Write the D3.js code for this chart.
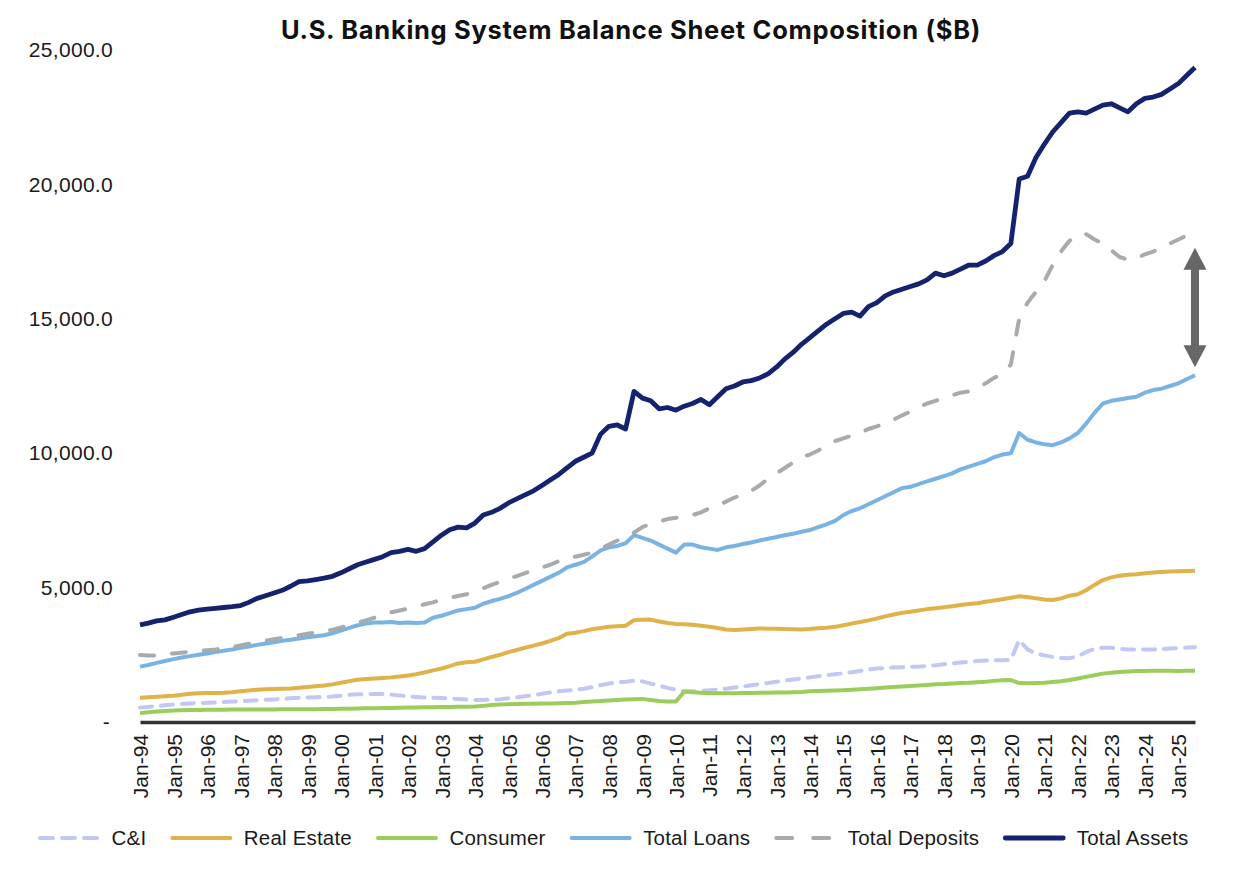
<!DOCTYPE html>
<html>
<head>
<meta charset="utf-8">
<script src="https://cdn.jsdelivr.net/npm/d3@7"></script>
<style>
  body { margin: 0; background: #fff; }
  svg { display: block; font-family: "Liberation Sans", Arial, sans-serif; }
</style>
</head>
<body>
<svg id="drawing_region"></svg>
<script>
// quarterly observations, Jan-1994 .. Jul-2025 ($B)
const quarters = d3.timeMonth.every(3).range(new Date(1994, 0, 1), new Date(2025, 7, 1));
const tickYears = d3.range(1994, 2026);

const totalAssets = [
  3610, 3680, 3760, 3800,   3900, 4000, 4100, 4160,   4200, 4230, 4260, 4290,
  4330, 4450, 4600, 4700,   4800, 4900, 5050, 5220,   5250, 5300, 5350, 5420,
  5550, 5700, 5850, 5950,   6050, 6150, 6300, 6350,   6420, 6350, 6450, 6700,
  6950, 7150, 7250, 7220,   7400, 7700, 7800, 7950,   8150, 8300, 8450, 8600,
  8800, 9000, 9200, 9450,   9700, 9850, 10000, 10700, 11000, 11050, 10900, 12300,
  12050, 11950, 11650, 11700, 11600, 11750, 11850, 12000, 11800, 12100, 12400, 12500,
  12650, 12700, 12800, 12950, 13200, 13500, 13750, 14050, 14300, 14550, 14800, 15000,
  15200, 15250, 15100, 15450, 15600, 15850, 16000, 16100, 16200, 16300, 16450, 16700,
  16600, 16700, 16850, 17000, 17000, 17150, 17350, 17500, 17800, 20200, 20300, 21000,
  21500, 21950, 22300, 22650, 22700, 22650, 22800, 22950, 23000, 22850, 22700, 23000,
  23200, 23250, 23350, 23550, 23750, 24050, 24350
];

const totalDeposits = [
  2490, 2470, 2480, 2520,   2550, 2580, 2610, 2640,   2670, 2700, 2740, 2790,
  2850, 2910, 2960, 3020,   3080, 3130, 3180, 3230,   3280, 3330, 3380, 3430,
  3520, 3600, 3700, 3780,   3880, 3980, 4080, 4150,   4220, 4280, 4380, 4450,
  4550, 4620, 4690, 4750,   4850, 4980, 5100, 5220,   5330, 5430, 5540, 5640,
  5750, 5850, 5980, 6080,   6150, 6220, 6300, 6450,   6600, 6750, 6850, 7050,
  7250, 7380, 7450, 7550,   7600, 7630, 7700, 7800,   7950, 8050, 8200, 8350,
  8450, 8600, 8800, 9050,   9250, 9450, 9650, 9850,   9950, 10100, 10300, 10450,
  10550, 10650, 10750, 10900, 11000, 11100, 11250, 11400, 11550, 11700, 11850, 11950,
  12050, 12150, 12250, 12300, 12450, 12600, 12800, 12950, 13300, 15000, 15600, 16000,
  16400, 17000, 17500, 17900, 18150, 18150, 17950, 17800, 17550, 17300, 17200, 17250,
  17400, 17500, 17650, 17800, 17950, 18100, 18200
];

const totalLoans = [
  2060, 2120, 2200, 2270,   2340, 2400, 2450, 2500,   2550, 2600, 2650, 2700,
  2760, 2810, 2870, 2920,   2970, 3020, 3060, 3110,   3150, 3190, 3230, 3300,
  3400, 3500, 3600, 3660,   3700, 3700, 3720, 3680,   3700, 3680, 3700, 3880,
  3950, 4050, 4150, 4200,   4250, 4400, 4500, 4580,   4680, 4800, 4950, 5100,
  5250, 5400, 5550, 5750,   5850, 5950, 6150, 6380,   6500, 6550, 6650, 6950,
  6850, 6750, 6600, 6450,   6300, 6600, 6600, 6500,   6450, 6400, 6500, 6550,
  6620, 6680, 6750, 6820,   6880, 6950, 7000, 7080,   7140, 7250, 7350, 7480,
  7700, 7850, 7950, 8100,   8250, 8400, 8550, 8700,   8750, 8850, 8950, 9050,
  9150, 9250, 9400, 9500,   9600, 9700, 9850, 9950,   10000, 10750, 10500, 10400,
  10330, 10300, 10400, 10550, 10750, 11100, 11500, 11850, 11950, 12000, 12050, 12100,
  12250, 12350, 12400, 12500, 12600, 12750, 12900
];

const realEstate = [
  905, 920, 940, 960,       980, 1010, 1050, 1070,    1075, 1080, 1090, 1110,
  1140, 1170, 1200, 1220,   1230, 1240, 1250, 1270,   1300, 1330, 1360, 1400,
  1460, 1520, 1570, 1600,   1620, 1640, 1660, 1690,   1730, 1780, 1840, 1920,
  1990, 2080, 2180, 2220,   2240, 2330, 2420, 2500,   2600, 2680, 2760, 2840,
  2920, 3020, 3120, 3280,   3320, 3380, 3450, 3500,   3540, 3560, 3580, 3790,
  3800, 3810, 3740, 3680,   3650, 3640, 3620, 3580,   3540, 3500, 3440, 3420,
  3440, 3460, 3480, 3470,   3470, 3460, 3450, 3440,   3460, 3490, 3510, 3540,
  3600, 3660, 3720, 3780,   3850, 3930, 4000, 4060,   4100, 4150, 4200, 4230,
  4270, 4310, 4350, 4390,   4420, 4470, 4520, 4570,   4620, 4680, 4650, 4600,
  4560, 4540, 4600, 4700,   4750, 4900, 5100, 5280,   5380, 5440, 5480, 5500,
  5530, 5560, 5580, 5600,   5610, 5620, 5630
];

const cAndI = [
  535, 560, 590, 620,       650, 670, 690, 705,       715, 730, 745, 760,
  775, 790, 810, 825,       840, 860, 880, 900,       910, 920, 935, 950,
  980, 1010, 1030, 1040,    1045, 1040, 1020, 990,    950, 930, 910, 900,
  890, 880, 860, 840,       820, 820, 830, 850,       880, 920, 960, 1000,
  1050, 1100, 1140, 1170,   1190, 1240, 1300, 1370,   1430, 1480, 1500, 1540,
  1510, 1430, 1350, 1270,   1200, 1140, 1140, 1160,   1180, 1210, 1240, 1280,
  1320, 1370, 1410, 1450,   1500, 1540, 1580, 1620,   1660, 1700, 1740, 1780,
  1810, 1850, 1900, 1950,   1990, 2010, 2030, 2040,   2050, 2060, 2080, 2110,
  2150, 2180, 2210, 2240,   2270, 2290, 2300, 2300,   2310, 3050, 2700, 2550,
  2480, 2420, 2380, 2370,   2450, 2600, 2720, 2760,   2760, 2720, 2700, 2700,
  2700, 2700, 2710, 2730,   2750, 2770, 2780
];

const consumer = [
  330, 360, 390, 410,       430, 440, 445, 450,       455, 458, 460, 462,
  463, 465, 466, 468,       468, 470, 470, 472,       474, 476, 480, 485,
  490, 495, 500, 510,       515, 520, 525, 530,       535, 540, 545, 550,
  555, 560, 565, 570,       575, 600, 630, 650,       665, 670, 675, 680,
  685, 690, 700, 710,       720, 740, 760, 780,       800, 820, 840, 850,
  860, 820, 780, 760,       760, 1130, 1110, 1090,    1070, 1065, 1065, 1070,
  1075, 1080, 1085, 1090,   1095, 1100, 1110, 1120,   1140, 1150, 1160, 1170,
  1185, 1200, 1220, 1240,   1260, 1280, 1300, 1320,   1340, 1360, 1380, 1400,
  1410, 1430, 1450, 1460,   1480, 1500, 1530, 1550,   1560, 1450, 1440, 1450,
  1460, 1490, 1520, 1560,   1620, 1680, 1740, 1800,   1830, 1860, 1880, 1895,
  1900, 1905, 1910, 1905,   1900, 1905, 1910
];

const seriesNames = ["C&I", "Real Estate", "Consumer", "Total Loans", "Total Deposits", "Total Assets"];

class BalanceChart {

    constructor( config, series ) {
        this.config = config;
        this.series = series;
        this.init();
    }

    init() {
        let self = this;
        const m = self.config.margin;

        self.svg = d3.select( self.config.parent )
            .attr('width', self.config.width)
            .attr('height', self.config.height);

        self.xscale = d3.scaleTime()
            .domain([new Date(1994, 0, 1), new Date(2025, 6, 1)])
            .range([m.left, self.config.width - m.right]);

        self.yscale = d3.scaleLinear()
            .domain([0, 25000])
            .range([self.config.height - m.bottom, m.top]);

        self.xaxis = d3.axisBottom( self.xscale )
            .tickValues( tickYears.map(y => new Date(y, 0, 1)) )
            .tickFormat( d3.timeFormat("Jan-%y") )
            .tickSize(0)
            .tickSizeOuter(0);

        self.yaxis = d3.axisLeft( self.yscale )
            .tickValues([0, 5000, 10000, 15000, 20000, 25000])
            .tickFormat( d => d === 0 ? "-" : d3.format(",.1f")(d) )
            .tickSize(0);
    }

    render() {
        let self = this;
        const m = self.config.margin;
        const baseY = self.config.height - m.bottom;

        self.svg.append('text')
            .attr('x', 631)
            .attr('y', 39)
            .attr('text-anchor', 'middle')
            .style('font-family', 'Inter, "Open Sans", sans-serif')
            .style('font-weight', 700)
            .style('font-size', '25.5px')
            .style('letter-spacing', '0.7px')
            .attr('fill', '#111')
            .text('U.S. Banking System Balance Sheet Composition ($B)');

        // y axis labels only
        const yg = self.svg.append('g')
            .attr('transform', `translate(${m.left - 27}, 0)`)
            .call( self.yaxis );
        yg.select('.domain').remove();
        yg.selectAll('text')
            .attr('x', 0)
            .style('font-size', '21px')
            .style('letter-spacing', '0.3px')
            .style('font-family', '"Liberation Sans", Arial, sans-serif')
            .attr('fill', '#1a1a1a');
        yg.selectAll('.tick').filter(d => d === 0).select('text').attr('x', -3);

        const line = d3.line()
            .x( (d, i) => self.xscale( quarters[i] ) )
            .y( d => self.yscale( d ) );

        self.svg.append('g')
            .selectAll('path')
            .data(self.series)
            .join('path')
            .attr('d', s => line( s.values ))
            .attr('fill', 'none')
            .attr('stroke', s => s.color)
            .attr('stroke-width', s => s.width)
            .attr('stroke-dasharray', s => s.dash)
            .attr('stroke-linecap', s => s.dash ? 'round' : 'butt')
            .attr('stroke-linejoin', 'round');

        // x axis: thick baseline + rotated labels
        const xg = self.svg.append('g')
            .attr('transform', `translate(0, ${baseY})`)
            .call( self.xaxis );
        xg.select('.domain')
            .attr('stroke', '#333')
            .attr('stroke-width', 3.5);
        xg.selectAll('text')
            .attr('transform', 'rotate(-90)')
            .attr('x', -12)
            .attr('y', 0)
            .attr('dy', '0.36em')
            .style('text-anchor', 'end')
            .style('font-size', '21px')
            .style('font-family', '"Liberation Sans", Arial, sans-serif')
            .attr('fill', '#1a1a1a');

        // double arrow marking the deposits - loans gap at the last observation
        const last = quarters.length - 1;
        const ax = self.xscale( quarters[last] );
        const yTop = self.yscale( totalDeposits[last] ) + 15;
        const yBot = self.yscale( totalLoans[last] ) - 8;
        const head = 22, hw = 11.5;
        const arrow = self.svg.append('g').attr('fill', '#676767');
        arrow.append('rect')
            .attr('x', ax - 4).attr('y', yTop + head - 1)
            .attr('width', 8).attr('height', (yBot - yTop) - 2 * head + 2);
        arrow.append('path')
            .attr('d', `M${ax},${yTop} L${ax + hw},${yTop + head} L${ax - hw},${yTop + head} Z`);
        arrow.append('path')
            .attr('d', `M${ax},${yBot} L${ax + hw},${yBot - head} L${ax - hw},${yBot - head} Z`);

        // legend
        const legend = self.svg.append('g')
            .attr('transform', 'translate(0, 838)');
        let lx = 38;
        self.series.forEach( s => {
            const item = legend.append('g').attr('transform', `translate(${lx}, 0)`);
            item.append('line')
                .attr('x1', 2).attr('x2', 60)
                .attr('stroke', s.color)
                .attr('stroke-width', s.width)
                .attr('stroke-dasharray', s.legendDash)
                .attr('stroke-linecap', 'round');
            const t = item.append('text')
                .attr('x', 73.5)
                .attr('dy', '0.36em')
                .style('font-size', '20.5px')
                .style('letter-spacing', '0.2px')
                .attr('fill', '#1a1a1a')
                .text(s.name);
            lx += 73.5 + t.node().getComputedTextLength() + 24;
        });
    }
}

const series = [
    { name: seriesNames[0], values: cAndI,         color: '#c1c8f4', width: 4,   dash: '12,9',  legendDash: '13,9' },
    { name: seriesNames[1], values: realEstate,    color: '#dfb24a', width: 4,   dash: null,    legendDash: null },
    { name: seriesNames[2], values: consumer,      color: '#9ccc5c', width: 4,   dash: null,    legendDash: null },
    { name: seriesNames[3], values: totalLoans,    color: '#79b3e4', width: 4,   dash: null,    legendDash: null },
    { name: seriesNames[4], values: totalDeposits, color: '#a8abad', width: 4,   dash: '14,18', legendDash: '16,21' },
    { name: seriesNames[5], values: totalAssets,   color: '#15226e', width: 4.8, dash: null,    legendDash: null }
];

const chart = new BalanceChart({
    parent: '#drawing_region',
    width: 1244,
    height: 870,
    margin: { top: 50, right: 49, bottom: 148, left: 140 }
}, series);
chart.render();
</script>
</body>
</html>
